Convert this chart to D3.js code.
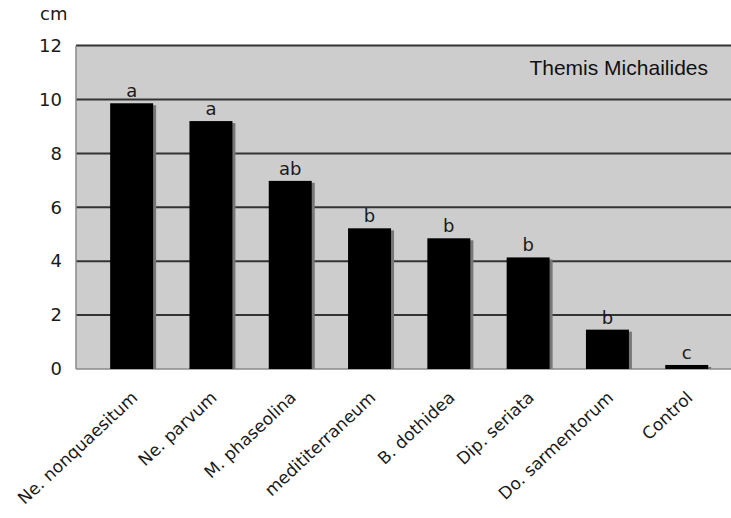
<!DOCTYPE html>
<html>
<head>
<meta charset="utf-8">
<script src="https://cdn.jsdelivr.net/npm/d3@7"></script>
<style>
  body { margin: 0; background: #fff; }
  svg { display: block; }
</style>
</head>
<body>
<div id="canvas"></div>
<script>
// categories (fungal species) and lesion length in cm
var categories = ["Ne. nonquaesitum", "Ne. parvum", "M. phaseolina", "medititerraneum",
                  "B. dothidea", "Dip. seriata", "Do. sarmentorum", "Control"];
var values = [9.86, 9.2, 6.98, 5.22, 4.85, 4.14, 1.46, 0.15];
var letters = ["a", "a", "ab", "b", "b", "b", "b", "c"];
var yTicks = [0, 2, 4, 6, 8, 10, 12];

var width = 731, height = 518;
var plot = {left: 76, right: 731, top: 45.6, bottom: 369};
var font = "DejaVu Sans, Verdana, sans-serif";

var svg = d3.select("#canvas").append("svg")
  .attr("width", width)
  .attr("height", height);

var x = d3.scaleBand()
  .domain(categories)
  .range([plot.left, plot.right])
  .paddingInner(0.458)
  .paddingOuter(0.359)
  .align(0.6);

var y = d3.scaleLinear()
  .domain([0, 12])
  .range([plot.bottom, plot.top]);

// plot background
svg.append("rect")
  .attr("x", plot.left)
  .attr("y", plot.top)
  .attr("width", plot.right - plot.left)
  .attr("height", plot.bottom - plot.top)
  .attr("fill", "#cdcdcd");

// gridlines
svg.append("g")
  .selectAll("line")
  .data(yTicks.filter(function(d){ return d > 0; }))
  .enter()
  .append("line")
  .attr("x1", plot.left)
  .attr("x2", plot.right)
  .attr("y1", function(d){ return y(d); })
  .attr("y2", function(d){ return y(d); })
  .attr("stroke", "#333")
  .attr("stroke-width", 2);

// left + bottom axis lines
svg.append("line")
  .attr("x1", plot.left).attr("x2", plot.left)
  .attr("y1", plot.top).attr("y2", plot.bottom)
  .attr("stroke", "#8a8a8a").attr("stroke-width", 1.5);
svg.append("line")
  .attr("x1", plot.left).attr("x2", plot.right)
  .attr("y1", plot.bottom).attr("y2", plot.bottom)
  .attr("stroke", "#8a8a8a").attr("stroke-width", 1.5);

// y tick labels
var yAxis = svg.append("g")
  .attr("transform", "translate(" + (plot.left - 8) + ",0)")
  .call(d3.axisLeft(y).tickValues(yTicks).tickSize(0).tickPadding(6));
yAxis.select(".domain").remove();
yAxis.selectAll("text")
  .attr("font-family", font)
  .attr("font-size", 18)
  .attr("fill", "#1a1a1a");

// unit label
svg.append("text")
  .attr("x", 40)
  .attr("y", 20)
  .attr("font-family", font)
  .attr("font-size", 18)
  .attr("fill", "#1a1a1a")
  .text("cm");

// bar shadows
svg.append("g")
  .selectAll("rect")
  .data(values)
  .enter()
  .append("rect")
  .attr("x", function(d, i){ return x(categories[i]) + 3; })
  .attr("y", function(d){ return y(d) + 2; })
  .attr("width", x.bandwidth())
  .attr("height", function(d){ return Math.max(0, plot.bottom - y(d) - 2); })
  .attr("fill", "#777");

// bars
svg.append("g")
  .selectAll("rect")
  .data(values)
  .enter()
  .append("rect")
  .attr("x", function(d, i){ return x(categories[i]); })
  .attr("y", function(d){ return y(d); })
  .attr("width", x.bandwidth())
  .attr("height", function(d){ return plot.bottom - y(d); })
  .attr("fill", "#000");

// significance letters
svg.append("g")
  .selectAll("text")
  .data(letters)
  .enter()
  .append("text")
  .attr("x", function(d, i){ return x(categories[i]) + x.bandwidth() / 2; })
  .attr("y", function(d, i){ return y(values[i]) - 6; })
  .attr("text-anchor", "middle")
  .attr("font-family", font)
  .attr("font-size", 18)
  .attr("fill", "#1a1a1a")
  .text(function(d){ return d; });

// category labels, rotated
svg.append("g")
  .selectAll("text")
  .data(categories)
  .enter()
  .append("text")
  .attr("transform", function(d){
    return "translate(" + (x(d) + x.bandwidth() / 2 + 7) + "," + (plot.bottom + 30) + ") rotate(-43)";
  })
  .attr("text-anchor", "end")
  .attr("font-family", font)
  .attr("font-size", 17)
  .attr("fill", "#1a1a1a")
  .text(function(d){ return d; });

// credit
svg.append("text")
  .attr("x", 708)
  .attr("y", 75)
  .attr("text-anchor", "end")
  .attr("font-family", "Liberation Sans, Arial, sans-serif")
  .attr("font-size", 21)
  .attr("fill", "#111")
  .text("Themis Michailides");
</script>
</body>
</html>
